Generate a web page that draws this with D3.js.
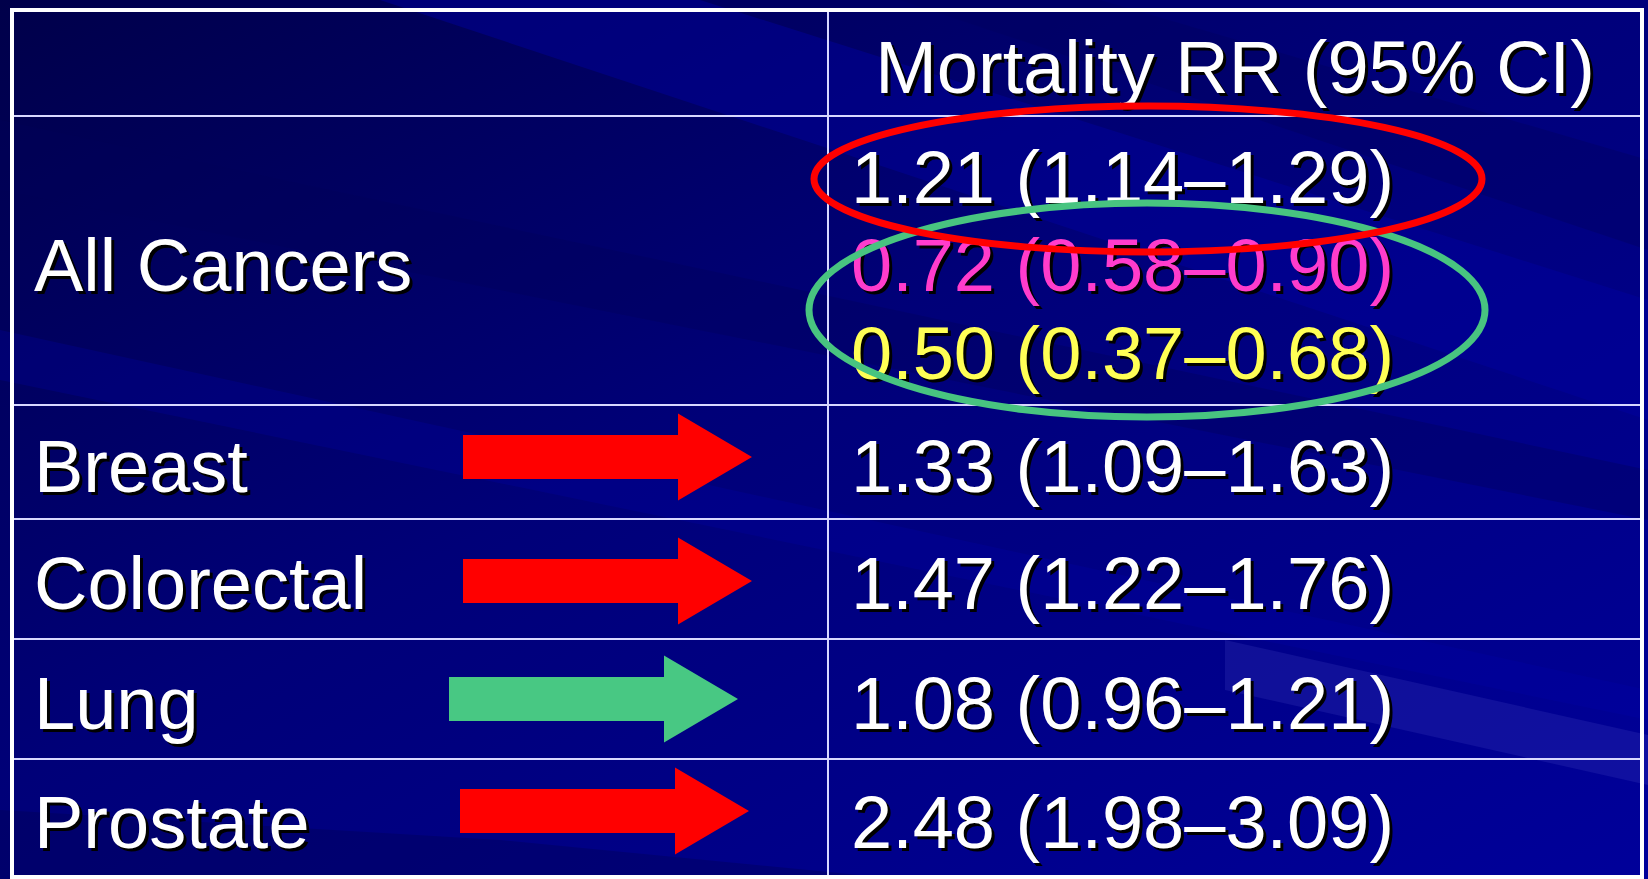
<!DOCTYPE html>
<html>
<head>
<meta charset="utf-8">
<script src="https://cdn.jsdelivr.net/npm/d3@7"></script>
<style>
  html, body { margin: 0; padding: 0; background: #000070; overflow: hidden; }
  svg { display: block; }
</style>
</head>
<body>
<svg id="svg"></svg>
<script>
// table content
const headerLabel = "Mortality RR (95% CI)";
const rowLabels = ["All Cancers", "Breast", "Colorectal", "Lung", "Prostate"];

// "All Cancers" has three estimates stacked in one cell
const allRR = [1.21, 0.72, 0.50];
const allLo = [1.14, 0.58, 0.37];
const allHi = [1.29, 0.90, 0.68];
const allColors = ["#ffffff", "#ff3ccc", "#ffff55"];

const siteRR = [1.33, 1.47, 1.08, 2.48];
const siteLo = [1.09, 1.22, 0.96, 1.98];
const siteHi = [1.63, 1.76, 1.21, 3.09];
const arrowColors = ["#ff0000", "#ff0000", "#48c883", "#ff0000"];
const arrowShiftX = [0, 0, -14, -3];
const arrowShiftY = [-5, 2, 0, -7];

const width = 1648, height = 879;
const fmt = d3.format(".2f");
const fontFamily = "'Liberation Sans', Arial, sans-serif";

const svg = d3.select("#svg")
    .attr("width", width)
    .attr("height", height);

// background
const defs = svg.append("defs");
const grad = defs.append("linearGradient")
    .attr("id", "bg")
    .attr("x1", 0).attr("y1", 0).attr("x2", 1).attr("y2", 1);
grad.append("stop").attr("offset", 0).attr("stop-color", "#00004a");
grad.append("stop").attr("offset", 0.45).attr("stop-color", "#000078");
grad.append("stop").attr("offset", 1).attr("stop-color", "#00009a");

svg.append("rect")
    .attr("width", width).attr("height", height)
    .attr("fill", "url(#bg)");

// soft diagonal streaks
const streaks = [
    {pts: [[380, 0], [700, 0], [1648, 300], [1648, 420]], c: "#0000a0", o: 0.45},
    {pts: [[0, 120], [0, 190], [1648, 520], [1648, 470]], c: "#00005a", o: 0.35},
    {pts: [[900, 0], [1100, 0], [1648, 160], [1648, 250]], c: "#000060", o: 0.4},
    {pts: [[1225, 640], [1648, 735], [1648, 785], [1225, 690]], c: "#4040c0", o: 0.25},
    {pts: [[0, 330], [0, 380], [1648, 720], [1648, 690]], c: "#0000aa", o: 0.25},
    {pts: [[0, 810], [0, 879], [900, 879], [500, 840]], c: "#000050", o: 0.35}
];
svg.append("g").selectAll("polygon")
    .data(streaks)
    .join("polygon")
    .attr("points", d => d.pts.map(p => p.join(",")).join(" "))
    .attr("fill", d => d.c)
    .attr("opacity", d => d.o);

// layout
const tLeft = 12, tRight = 1642, tTop = 10, tBottom = 877;
const divider = 828;
const rowEdges = [tTop, 116, 405, 519, 639, 759, tBottom];

const rowMid = i => (rowEdges[i] + rowEdges[i + 1]) / 2;

// grid lines
const grid = svg.append("g")
    .attr("stroke", "#d8d8ff")
    .attr("stroke-width", 2);
grid.selectAll("line.h")
    .data(rowEdges.slice(1, -1))
    .join("line")
    .attr("class", "h")
    .attr("x1", tLeft).attr("x2", tRight)
    .attr("y1", d => d).attr("y2", d => d);
grid.append("line")
    .attr("x1", divider).attr("x2", divider)
    .attr("y1", tTop).attr("y2", tBottom);
svg.append("rect")
    .attr("x", tLeft).attr("y", tTop)
    .attr("width", tRight - tLeft).attr("height", tBottom - tTop)
    .attr("fill", "none")
    .attr("stroke", "#ffffff")
    .attr("stroke-width", 4);

// text with drop shadow
function shadowText(g, x, y, str, color, anchor) {
    g.append("text")
        .attr("x", x + 3).attr("y", y + 3)
        .attr("text-anchor", anchor || "start")
        .attr("fill", "#000000")
        .text(str);
    g.append("text")
        .attr("x", x).attr("y", y)
        .attr("text-anchor", anchor || "start")
        .attr("fill", color)
        .text(str);
}

const txt = svg.append("g")
    .attr("font-family", fontFamily)
    .attr("font-size", 74);

shadowText(txt, (divider + tRight) / 2, rowMid(0) + 30, headerLabel, "#ffffff", "middle");

rowLabels.forEach((label, i) => {
    shadowText(txt, 34, rowMid(i + 1) + 30, label, "#ffffff");
});

const ciText = (v, lo, hi) => `${fmt(v)} (${fmt(lo)}\u2013${fmt(hi)})`;

// all cancers block: three lines
const lineGap = 88;
allRR.forEach((v, i) => {
    const y = rowMid(1) + 30 + (i - 1) * lineGap;
    shadowText(txt, 851, y, ciText(v, allLo[i], allHi[i]), allColors[i]);
});

siteRR.forEach((v, i) => {
    shadowText(txt, 851, rowMid(i + 2) + 30, ciText(v, siteLo[i], siteHi[i]), "#ffffff");
});

// arrows
const arrowLen = 289, shaftH = 44, headH = 87, headL = 74;
const arrowPath = d3.line();
svg.append("g").selectAll("path")
    .data(siteRR)
    .join("path")
    .attr("d", (d, i) => {
        const x0 = 463 + arrowShiftX[i];
        const cy = rowMid(i + 2) + arrowShiftY[i];
        const x1 = x0 + arrowLen - headL, x2 = x0 + arrowLen;
        return arrowPath([
            [x0, cy - shaftH / 2], [x1, cy - shaftH / 2], [x1, cy - headH / 2],
            [x2, cy], [x1, cy + headH / 2], [x1, cy + shaftH / 2], [x0, cy + shaftH / 2]
        ]) + "Z";
    })
    .attr("fill", (d, i) => arrowColors[i]);

// highlight ellipses
const rings = [
    {cx: 1147, cy: 310, rx: 338, ry: 107, c: "#48c480"},
    {cx: 1148, cy: 179, rx: 334, ry: 73, c: "#ff0000"}
];
svg.append("g").selectAll("ellipse")
    .data(rings)
    .join("ellipse")
    .attr("cx", d => d.cx).attr("cy", d => d.cy)
    .attr("rx", d => d.rx).attr("ry", d => d.ry)
    .attr("fill", "none")
    .attr("stroke", d => d.c)
    .attr("stroke-width", 7);
</script>
</body>
</html>
